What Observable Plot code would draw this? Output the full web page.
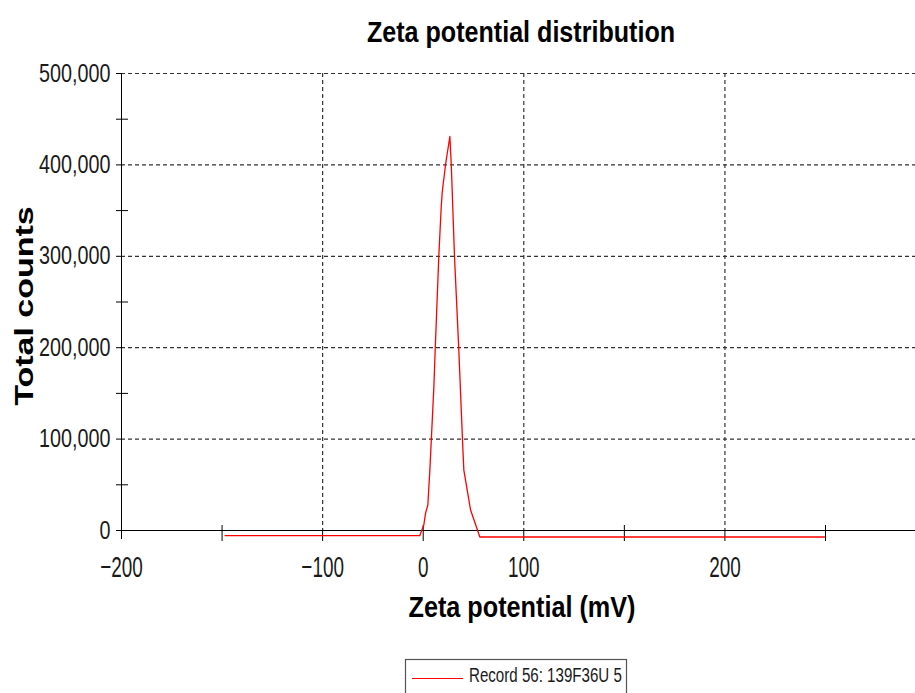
<!DOCTYPE html>
<html>
<head>
<meta charset="utf-8">
<script src="https://cdn.jsdelivr.net/npm/d3@7"></script>
<script src="https://cdn.jsdelivr.net/npm/@observablehq/plot@0.6"></script>
<style>
  html, body { margin: 0; padding: 0; background: #fff; }
  #wrap { position: relative; width: 915px; height: 693px; overflow: hidden; }
</style>
</head>
<body>
<div id="wrap"></div>
<script>
// ---- Data ----
const zeta   = [-197, -3.4, 0.6, 2.3, 4.6, 6.6, 8.0, 10.6, 11.9, 15.5, 17.9, 18.9, 22.2, 26.5,
                27.9, 31.1, 35.4, 39.1, 40.4, 47.1, 56.3, 399];
const counts = [-5500, -5500, 6000, 18800, 27900, 66100, 97800, 157200, 197300, 300000, 353900, 370300, 400200, 431100,
                400200, 300000, 197300, 97800, 66100, 22400, -7100, -7100];

// axis ticks / labels
const xTickValues  = [-300, -200, -100, 0, 100, 200, 300, 400];
const xGridValues  = [-100, 100, 300];
const xLabelValues = [-300, -100, 0, 100, 300];
const xLabelTexts  = ["\u2212200", "\u2212100", "0", "100", "200"];
const yMajor = [0, 100000, 200000, 300000, 400000, 500000];
const yMinor = [50000, 150000, 250000, 350000, 450000];
const yGrid  = [100000, 200000, 300000, 400000, 500000];

const titleText  = "Zeta potential distribution";
const xTitleText = "Zeta potential (mV)";
const yTitleText = "Total counts";
const legendText = "Record 56: 139F36U 5";

const points = zeta.map((z, i) => ({zeta: z, counts: counts[i]}));
const xMinorTicks = xTickValues.filter(v => !xGridValues.includes(v) && v !== -300);

const FONT = "'Liberation Sans', Arial, Helvetica, sans-serif";

const chart = Plot.plot({
  width: 915,
  height: 693,
  marginTop: 73,
  marginBottom: 163,
  marginLeft: 121,
  marginRight: 0,
  style: {background: "#fff", fontFamily: FONT, overflow: "visible"},
  x: {domain: [-300, 489.5], axis: null, label: null},
  y: {domain: [0, 500000], axis: null, label: null},
  marks: [
    Plot.ruleY(yGrid, {stroke: "#333", strokeDasharray: "4,3", strokeWidth: 1.2}),
    Plot.ruleX(xGridValues, {stroke: "#333", strokeDasharray: "4,3", strokeWidth: 1.2}),
    Plot.ruleY([0], {stroke: "#000", insetLeft: -5}),
    Plot.ruleX([-300], {stroke: "#000", insetBottom: -9}),
    Plot.ruleX(xMinorTicks, {y1: 0, y2: 0, insetTop: -5, insetBottom: -11, stroke: "#000"}),
    Plot.ruleX(xGridValues, {y1: 0, y2: 0, insetBottom: -11, stroke: "#000"}),
    Plot.ruleY(yMajor, {x1: -300, x2: -300, insetLeft: -5, stroke: "#000"}),
    Plot.ruleY(yMinor, {x1: -300, x2: -300, insetLeft: -5, insetRight: -7, stroke: "#000"}),
    Plot.line(points, {x: "zeta", y: "counts", stroke: "#ff0000", strokeWidth: 1.3}),
    Plot.axisX(xLabelValues, {
      tickSize: 0, tickPadding: 25, fontSize: 30, fill: "#1a1a1a", label: null,
      tickFormat: d => xLabelTexts[xLabelValues.indexOf(d)]
    }),
    Plot.axisY(yMajor, {
      tickSize: 0, tickPadding: 11, fontSize: 25.5, fill: "#1a1a1a", label: null,
      tickFormat: d3.format(",")
    })
  ]
});

document.getElementById("wrap").appendChild(chart);

// Condense the text horizontally, as in the reference
function squash(selector, sx, sy) {
  d3.select(chart).selectAll(selector).each(function () {
    const t = this.getAttribute("transform") || "";
    this.setAttribute("transform", `${t} scale(${sx},${sy})`);
  });
}
squash('[aria-label="x-axis tick label"] text', 0.63, 1);
squash('[aria-label="y-axis tick label"] text', 0.775, 1);

const svg = d3.select(chart);

// Title
svg.append("text")
  .attr("transform", "translate(521,41.7) scale(0.837,1)")
  .attr("text-anchor", "middle")
  .attr("font-family", FONT)
  .attr("font-weight", "bold")
  .attr("font-size", 30)
  .attr("fill", "#000")
  .text(titleText);

// X axis title
svg.append("text")
  .attr("transform", "translate(522,616.7) scale(0.87,1)")
  .attr("text-anchor", "middle")
  .attr("font-family", FONT)
  .attr("font-weight", "bold")
  .attr("font-size", 29)
  .attr("fill", "#000")
  .text(xTitleText);

// Y axis title
svg.append("text")
  .attr("transform", "translate(33.3,306) rotate(-90) scale(1,0.74)")
  .attr("text-anchor", "middle")
  .attr("font-family", FONT)
  .attr("font-weight", "bold")
  .attr("font-size", 34)
  .attr("fill", "#000")
  .text(yTitleText);

// Legend
const lg = svg.append("g");
lg.append("rect")
  .attr("x", 405.5).attr("y", 659.5).attr("width", 221).attr("height", 50)
  .attr("fill", "#fff").attr("stroke", "#555").attr("stroke-width", 1.2);
lg.append("line")
  .attr("x1", 412).attr("x2", 463).attr("y1", 678.5).attr("y2", 678.5)
  .attr("stroke", "#ff0000").attr("stroke-width", 1);
lg.append("text")
  .attr("transform", "translate(469,681.7) scale(0.72,1)")
  .attr("text-anchor", "start")
  .attr("font-family", FONT)
  .attr("font-size", 21)
  .attr("fill", "#1a1a1a")
  .text(legendText);
</script>
</body>
</html>
